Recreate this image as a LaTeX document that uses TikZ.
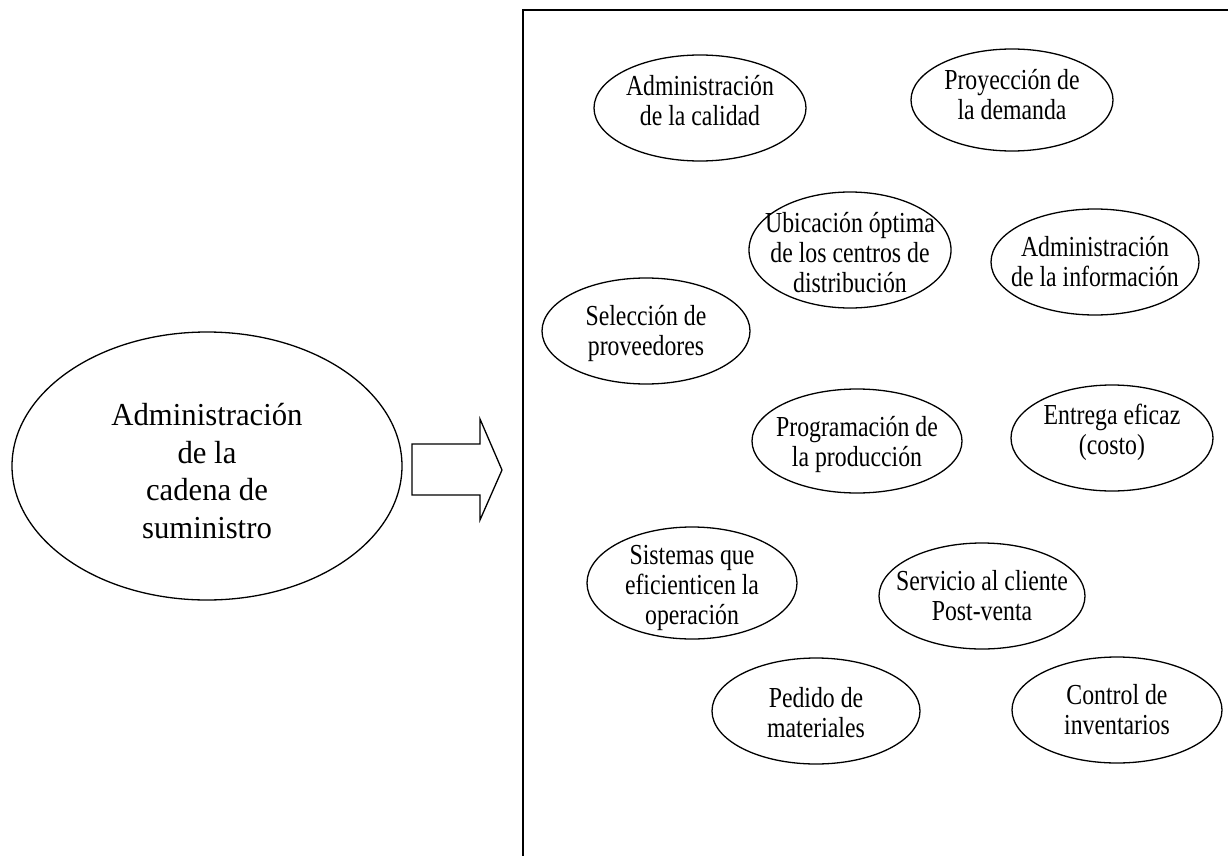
\documentclass[tikz,border=0pt]{standalone}
\usepackage{fontspec}
\setmainfont{Liberation Serif}
\newfontfamily\condserif[FakeStretch=0.82]{Liberation Serif}
\newfontfamily\bigserif[FakeStretch=0.96]{Liberation Serif}
\usetikzlibrary{shapes.geometric}
\begin{document}
\begin{tikzpicture}[x=1pt,y=-1pt,
  oval/.style={draw, line width=1.3pt, ellipse, inner sep=0pt, minimum width=208pt, minimum height=106pt},
  txt/.style={align=center, inner sep=0pt, font=\condserif\fontsize{29}{30}\selectfont},
  bigtxt/.style={align=center, inner sep=0pt, font=\bigserif\fontsize{32}{37.5}\selectfont},
  frame/.style={line width=2pt},
  blockarrow/.style={line width=1.3pt, line join=miter}]
\useasboundingbox (0,0) rectangle (1228,856);
% main ellipse
\node[oval, minimum width=390pt, minimum height=268pt] (main) at (207,466) {};
\node[bigtxt] (maint) at ([yshift=-5pt]main.center) {Administración\\de la\\cadena de\\suministro};
% frame
\coordinate (fbl) at (523,860);
\coordinate (ftl) at (523,10);
\coordinate (ftr) at (1232,10);
\draw[frame] (fbl) -- (ftl) -- (ftr);
% block arrow
\draw[blockarrow] (412,444) -- (480,444) -- (480,419) -- (502,470) -- (480,520) -- (480,495) -- (412,495) -- cycle;
% topic ellipses
\node[oval, minimum width=212pt] (e1) at (700,108) {};
\node[txt] (t1) at ([yshift=7pt]e1.center) {Administración\\de la calidad};
\node[oval, minimum width=202pt, minimum height=102pt] (e2) at (1012,100) {};
\node[txt] (t2) at ([yshift=5pt]e2.center) {Proyección de\\la demanda};
\node[oval, minimum width=202pt, minimum height=116pt] (e3) at (850,250) {};
\node[txt] (t3) at ([yshift=-3pt]e3.center) {Ubicación óptima\\de los centros de\\distribución};
\node[oval, minimum width=208pt] (e4) at (1095,262) {};
\node[txt] (t4) at (e4.center) {Administración\\de la información};
\node[oval, minimum height=106pt] (e5) at (646,331) {};
\node[txt] (t5) at ([yshift=-3pt]e5.center) {Selección de\\proveedores};
\node[oval, minimum width=210pt, minimum height=104pt] (e6) at (857,441) {};
\node[txt] (t6) at ([yshift=-4pt]e6.center) {Programación de\\la producción};
\node[oval, minimum width=202pt] (e7) at (1112,438) {};
\node[txt] (t7) at ([yshift=6pt]e7.center) {Entrega eficaz\\(costo)};
\node[oval, minimum width=210pt, minimum height=112pt] (e8) at (692,583) {};
\node[txt] (t8) at ([yshift=-5pt]e8.center) {Sistemas que\\eficienticen la\\operación};
\node[oval, minimum width=206pt] (e9) at (982,596) {};
\node[txt] (t9) at (e9.center) {Servicio al cliente\\Post-venta};
\node[oval] (e10) at (816,711) {};
\node[txt] (t10) at ([yshift=-2pt]e10.center) {Pedido de\\materiales};
\node[oval, minimum width=210pt] (e11) at (1117,710) {};
\node[txt] (t11) at (e11.center) {Control de\\inventarios};
\end{tikzpicture}
\end{document}
